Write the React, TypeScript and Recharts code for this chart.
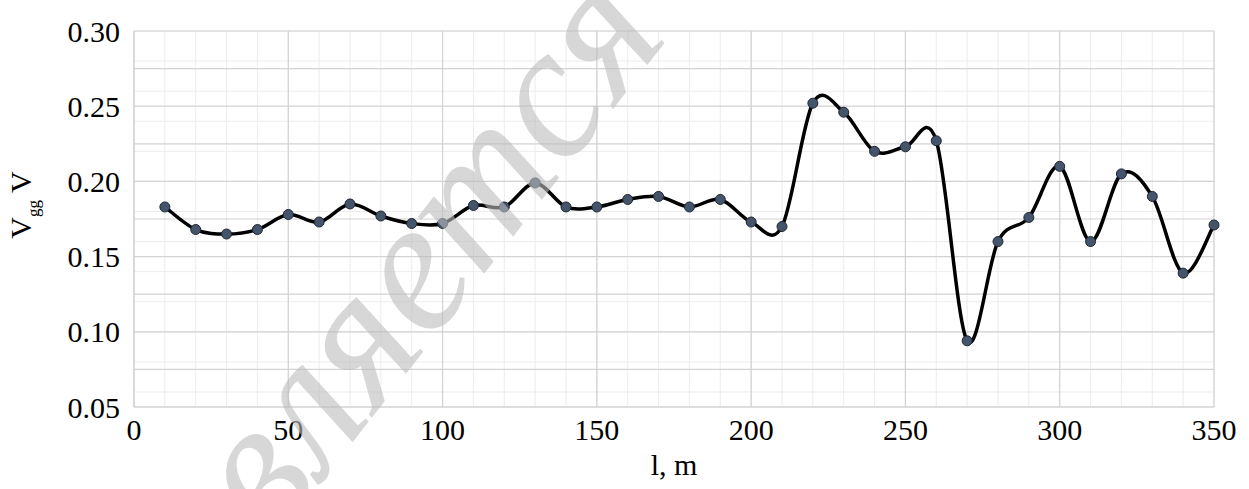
import { CartesianGrid, Line, LineChart, XAxis, YAxis } from "recharts";

// distance along the line, m
const distance = [10, 20, 30, 40, 50, 60, 70, 80, 90, 100, 110, 120, 130, 140, 150, 160, 170, 180, 190, 200, 210, 220, 230, 240, 250, 260, 270, 280, 290, 300, 310, 320, 330, 340, 350];
// measured voltage, V
const voltage = [0.183, 0.168, 0.165, 0.168, 0.178, 0.173, 0.185, 0.177, 0.172, 0.172, 0.184, 0.183, 0.199, 0.183, 0.183, 0.188, 0.19, 0.183, 0.188, 0.173, 0.17, 0.252, 0.246, 0.22, 0.223, 0.227, 0.094, 0.16, 0.176, 0.21, 0.16, 0.205, 0.19, 0.139, 0.171];

const xTicks = [0, 50, 100, 150, 200, 250, 300, 350];
const yTicks = [0.05, 0.1, 0.15, 0.2, 0.25, 0.3];
const yMajorGrid = [0.05, 0.075, 0.1, 0.125, 0.15, 0.175, 0.2, 0.225, 0.25, 0.275, 0.3];
const yMinorGrid = Array.from({ length: 51 }, (_, i) => +(0.05 + i * 0.005).toFixed(3));
const xMinorGrid = Array.from({ length: 36 }, (_, i) => i * 10);

const data = distance.map((l, i) => ({ l, v: voltage[i] }));

// Excel-style smoothed line (Catmull-Rom through every point)
function smoothCurve(context: any) {
  let pts: [number, number][] = [];
  return {
    areaStart() {},
    areaEnd() {},
    lineStart() {
      pts = [];
    },
    point(x: number, y: number) {
      pts.push([+x, +y]);
    },
    lineEnd() {
      const n = pts.length;
      if (!n) return;
      context.moveTo(pts[0][0], pts[0][1]);
      for (let i = 0; i < n - 1; i++) {
        const p0 = pts[Math.max(i - 1, 0)];
        const p1 = pts[i];
        const p2 = pts[i + 1];
        const p3 = pts[Math.min(i + 2, n - 1)];
        context.bezierCurveTo(
          p1[0] + (p2[0] - p0[0]) / 6,
          p1[1] + (p2[1] - p0[1]) / 6,
          p2[0] - (p3[0] - p1[0]) / 6,
          p2[1] - (p3[1] - p1[1]) / 6,
          p2[0],
          p2[1]
        );
      }
    }
  };
}

const font = "'Liberation Serif', 'Times New Roman', serif";

export default function App() {
  return (
    <div style={{ position: "absolute", left: 0, top: 0, width: 1249, height: 489, background: "#fff", fontFamily: font }}>
      <style>{`.recharts-text, .recharts-label { font-family: 'Liberation Serif', 'Times New Roman', serif; }`}</style>
      <LineChart width={1249} height={489} data={data} margin={{ top: 31, right: 35, left: 24, bottom: 32 }}>
        <CartesianGrid horizontalValues={yMinorGrid} verticalValues={xMinorGrid} stroke="#ececec" strokeWidth={1} />
        <CartesianGrid horizontalValues={yMajorGrid} verticalValues={xTicks} stroke="#d2d2d2" strokeWidth={1.2} />
        <XAxis
          dataKey="l"
          type="number"
          domain={[0, 350]}
          ticks={xTicks}
          tickLine={false}
          axisLine={{ stroke: "#d2d2d2" }}
          height={50}
          tick={{ fill: "#000", fontSize: 30, fontFamily: font }}
          dy={4}
          label={{ value: "l, m", position: "insideBottom", offset: -18, fill: "#000", fontSize: 30, fontFamily: font }}
        />
        <YAxis
          type="number"
          domain={[0.05, 0.3]}
          ticks={yTicks}
          tickFormatter={(v: number) => v.toFixed(2)}
          tickLine={false}
          axisLine={{ stroke: "#d2d2d2" }}
          width={110}
          tick={{ fill: "#000", fontSize: 30, fontFamily: font }}
          dx={-6}
          label={{
            content: () => (
              <text transform="translate(31,205) rotate(-90)" textAnchor="middle" fill="#000" fontSize={30} fontFamily={font}>
                V
                <tspan fontSize={17} dy={8}>gg</tspan>
                <tspan dy={-8}> V</tspan>
              </text>
            )
          }}
        />
        <Line
          type={smoothCurve as any}
          dataKey="v"
          stroke="#000"
          strokeWidth={3.5}
          isAnimationActive={false}
          dot={{ r: 5, fill: "#44546a", stroke: "#1e2633", strokeWidth: 1 }}
          activeDot={false}
        />
      </LineChart>
      <svg width={1249} height={489} style={{ position: "absolute", left: 0, top: 0, pointerEvents: "none" }}>
        <text
          transform="translate(445,324) rotate(-52)"
          textAnchor="middle"
          fontSize={190}
          fontStyle="italic"
          fontFamily={font}
          fill="#bdbdbd"
          fillOpacity={0.6}
        >
          является
        </text>
      </svg>
    </div>
  );
}
